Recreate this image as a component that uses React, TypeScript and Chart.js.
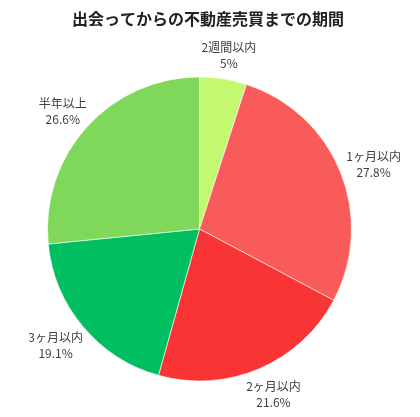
import React, { useEffect, useRef } from "react";
import { Chart, registerables } from "chart.js";

Chart.register(...registerables);

const TITLE = "出会ってからの不動産売買までの期間";
const categories = ["2週間以内", "1ヶ月以内", "2ヶ月以内", "3ヶ月以内", "半年以上"];
const values = [5, 27.8, 21.6, 19.1, 26.6];
const valueLabels = ["5%", "27.8%", "21.6%", "19.1%", "26.6%"];
const colors = ["#c4f870", "#f95a5a", "#f93434", "#00bf60", "#80d85a"];

const FONT = "'Noto Sans CJK JP', 'Noto Sans', sans-serif";

const labelPlugin = {
  id: "outerLabels",
  afterDraw(chart: any) {
    const ctx = chart.ctx;
    const meta = chart.getDatasetMeta(0);
    ctx.save();
    ctx.font = `bold 16px ${FONT}`;
    ctx.fillStyle = "#222222";
    ctx.textAlign = "center";
    ctx.textBaseline = "middle";
    ctx.fillText(TITLE, 208, 19);

    ctx.font = `12px ${FONT}`;
    ctx.fillStyle = "#404040";
    meta.data.forEach((arc: any, i: number) => {
      const { x, y, startAngle, endAngle, outerRadius } = arc.getProps(
        ["x", "y", "startAngle", "endAngle", "outerRadius"],
        true
      );
      const mid = (startAngle + endAngle) / 2;
      const c = Math.cos(mid);
      const s = Math.sin(mid);
      const w = Math.max(
        ctx.measureText(categories[i]).width,
        ctx.measureText(valueLabels[i]).width
      );
      const hw = w / 2;
      const hh = 17;
      const rr = outerRadius + 8.5;
      const cx = x + rr * c + hw * c;
      const cy = y + rr * s + hh * s + 2;
      ctx.fillText(categories[i], cx, cy - 8);
      ctx.fillText(valueLabels[i], cx, cy + 8);
    });
    ctx.restore();
  },
};

export default function App() {
  const ref = useRef<HTMLCanvasElement | null>(null);
  useEffect(() => {
    document.body.style.margin = "0";
    const chart = new Chart(ref.current!, {
      type: "pie",
      data: {
        labels: categories,
        datasets: [
          {
            data: values,
            backgroundColor: colors,
            borderColor: "rgba(255,255,255,0.6)",
            borderWidth: 1,
          },
        ],
      },
      options: {
        animation: false,
        responsive: false,
        devicePixelRatio: 1,
        layout: { padding: { top: 76.5, bottom: 35.5, left: 47, right: 68 } },
        plugins: {
          legend: { display: false },
          tooltip: { enabled: false },
          title: { display: false },
        },
      },
      plugins: [labelPlugin],
    });
    return () => chart.destroy();
  }, []);
  return (
    <div style={{ width: 420, height: 417, background: "#fff" }}>
      <canvas ref={ref} width={420} height={417} />
    </div>
  );
}
